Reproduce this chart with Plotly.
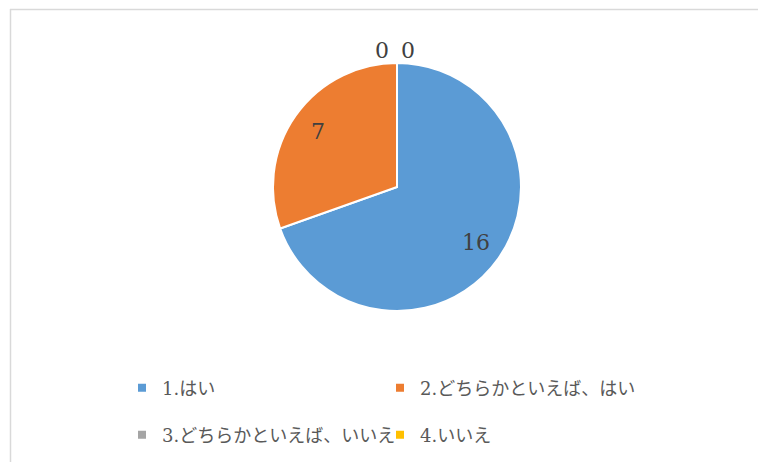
import math
import plotly.graph_objects as go

labels = ["1.はい", "2.どちらかといえば、はい", "3.どちらかといえば、いいえ", "4.いいえ"]
values = [16, 7, 0, 0]
colors = ["#5B9BD5", "#ED7D31", "#A5A5A5", "#FFC000"]

W, H = 766, 462
OFF = 8  # page body margin offset in the screenshot
cx, cy, r = 397 - OFF, 187 - OFF, 124

num_font = "DejaVu Serif, Noto Sans CJK JP"
txt_color = "#404040"

fig = go.Figure()
fig.add_trace(go.Pie(
    labels=labels, values=values, sort=False, direction="clockwise", rotation=0,
    marker=dict(colors=colors, line=dict(color="white", width=2)),
    textinfo="none",
    domain=dict(x=[(cx - r) / W, (cx + r) / W], y=[(H - cy - r) / H, (H - cy + r) / H]),
    showlegend=False, hoverinfo="label+value",
))

# data labels placed from the slice angles
total = sum(values)
cum = 0
zero_k = 0
for v in values:
    if v > 0:
        mid = (cum + v / 2) / total * 2 * math.pi
        px = cx + 0.78 * r * math.sin(mid)
        py = cy - 0.78 * r * math.cos(mid)
    else:
        ang = cum / total * 2 * math.pi
        ex = cx + (r + 13) * math.sin(ang)
        ey = cy - (r + 13) * math.cos(ang)
        px = ex + (-15 if zero_k == 0 else 11)
        py = ey
        zero_k += 1
    fig.add_annotation(
        x=px / W, y=(H - py) / H, xref="paper", yref="paper",
        xanchor="center", yanchor="middle",
        text=str(v), showarrow=False,
        font=dict(family=num_font, size=22, color=txt_color),
    )
    cum += v

# legend entries (two rows)
for i, (lab, col) in enumerate(zip(labels, colors)):
    fig.add_trace(go.Scatter(
        x=[None], y=[None], mode="markers", name=lab,
        marker=dict(symbol="square", size=8, color=col),
        legend="legend" if i < 2 else "legend2",
    ))

legend_common = dict(
    orientation="h", xref="paper", yref="paper", xanchor="left", yanchor="middle",
    entrywidth=213, entrywidthmode="pixels", bgcolor="rgba(0,0,0,0)",
    font=dict(family=num_font, size=18, color="#595959"),
    itemclick=False, itemdoubleclick=False, traceorder="normal",
)

fig.update_layout(
    width=W, height=H, margin=dict(l=0, r=0, t=0, b=0),
    paper_bgcolor="white", plot_bgcolor="white",
    xaxis=dict(visible=False), yaxis=dict(visible=False),
    legend=dict(x=(122 - OFF) / W, y=(H - (388 - OFF)) / H, **legend_common),
    legend2=dict(x=(122 - OFF) / W, y=(H - (435 - OFF)) / H, **legend_common),
    shapes=[
        dict(type="line", xref="paper", yref="paper", x0=(10 - OFF) / W, x1=1,
             y0=(H - (9.5 - OFF)) / H, y1=(H - (9.5 - OFF)) / H,
             line=dict(color="#D9D9D9", width=1.5)),
        dict(type="line", xref="paper", yref="paper", x0=(10.5 - OFF) / W, x1=(10.5 - OFF) / W,
             y0=0, y1=(H - (9 - OFF)) / H,
             line=dict(color="#D9D9D9", width=1.5)),
    ],
)

fig.write_html("out.html")
